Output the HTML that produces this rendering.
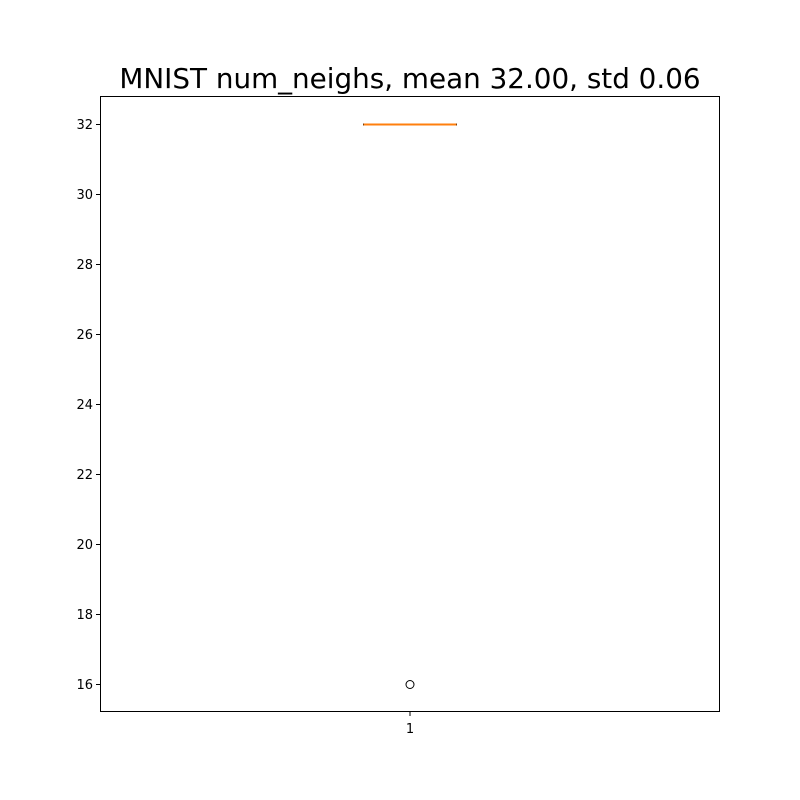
<!DOCTYPE html>
<html><head><meta charset="utf-8"><style>body{margin:0;background:#fff}svg{display:block}text{font-family:"DejaVu Sans","Liberation Sans",sans-serif}</style></head>
<body>
<svg id="chart" width="800" height="800">
<rect x="0" y="0" width="800" height="800" fill="#fff"/>
<text x="410" y="88" font-size="27.8" text-anchor="middle">MNIST num_neighs, mean 32.00, std 0.06</text>
<g id="yticks"></g><g id="xticks"></g><g id="marks"></g>
<rect x="100.5" y="96.5" width="619" height="615" fill="none" stroke="#000" stroke-width="1"/>
</svg>
<script>
const categories = ["1"];
const q1 = [32], q3 = [32], medians = [32], whiskLo = [32], whiskHi = [32];
const outliers = [[16]];
const yTicks = [16,18,20,22,24,26,28,30,32];
const yMin = 15.2, yMax = 32.8;
const ns = "http://www.w3.org/2000/svg";
function y(v){return 712.5 - (v - yMin) / (yMax - yMin) * 616;}
function x(i){return 100 + (i + 1 - 0.5) / 1 * 620;}
function mk(tag, attrs, parent){const e=document.createElementNS(ns,tag);for(const k in attrs)e.setAttribute(k,attrs[k]);document.getElementById(parent).appendChild(e);return e;}
yTicks.forEach(t=>{
  const l=mk('line',{x1:96,x2:100,y1:y(t),y2:y(t),stroke:'#000'},'yticks');
  
  
  const tx=mk('text',{x:93,y:y(t)+4.5,'font-size':13,'text-anchor':'end'},'yticks');
  tx.textContent=t;
  
  
});
categories.forEach((c,i)=>{
  const cx=x(i), hw=620*0.075, cw=620*0.0375;
  const l=mk('line',{x1:cx,x2:cx,y1:712,y2:716,stroke:'#000'},'xticks');
  
  
  const tx=mk('text',{x:cx,y:733,'font-size':13,'text-anchor':'middle'},'xticks');
  tx.textContent=c;
  
  
  const w1=mk('line',{x1:cx,x2:cx,y1:y(q1[i]),y2:y(whiskLo[i]),stroke:'#000'},'marks');
  
  
  const w2=mk('line',{x1:cx,x2:cx,y1:y(q3[i]),y2:y(whiskHi[i]),stroke:'#000'},'marks');
  
  
  const c1=mk('line',{x1:cx-cw,x2:cx+cw,y1:y(whiskLo[i]),y2:y(whiskLo[i]),stroke:'#000'},'marks');
  
  
  const c2=mk('line',{x1:cx-cw,x2:cx+cw,y1:y(whiskHi[i]),y2:y(whiskHi[i]),stroke:'#000'},'marks');
  
  
  const b=mk('rect',{x:cx-hw,y:y(q3[i])-0.5,width:2*hw,height:Math.max(1,y(q1[i])-y(q3[i])),fill:'none',stroke:'#000'},'marks');
  
  
  const m=mk('line',{x1:cx-hw,x2:cx+hw,y1:y(medians[i]),y2:y(medians[i]),stroke:'#ff7f0e','stroke-width':2},'marks');
  
  
  outliers[i].forEach(o=>{
    const p=mk('circle',{cx:cx,cy:y(o),r:4,fill:'none',stroke:'#000'},'marks');
    
    
  });
});
</script>
</body></html>
